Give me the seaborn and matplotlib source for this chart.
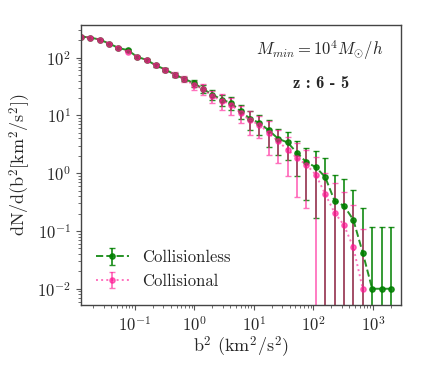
import numpy as np
import pandas as pd
import matplotlib
matplotlib.use('Agg')
import matplotlib.pyplot as plt
import seaborn as sns

# b^2 bin centres (km^2/s^2)
b2 = [0.0123, 0.0177, 0.0255, 0.0366, 0.0527, 0.0759, 0.109, 0.157, 0.226, 0.325,
      0.468, 0.673, 0.968, 1.39, 2.00, 2.88, 4.15, 5.97, 8.59, 12.4,
      17.8, 25.6, 36.8, 53.0, 76.2, 110, 158, 227, 327, 470,
      676, 973, 1400, 2014]

# collisionless
dn_cl = [231, 222, 205, 175, 147, 134, 103, 91, 73, 62,
         50.7, 42.8, 36.4, 28.7, 22.9, 18.7, 16.4, 11.7, 8.8, 7.4,
         5.5, 3.95, 3.4, 2.25, 1.55, 1.27, 0.855, 0.333, 0.272, 0.156,
         0.042, 0.01, 0.01, 0.01]
err_cl = [4, 4, 4, 4, 4, 4, 4, 4, 4, 4,
          4, 4, 5, 4.5, 4.5, 4.0, 4.0, 3.2, 3.2, 2.9,
          2.7, 1.9, 1.7, 1.35, 1.2, 1.1, 0.97, 0.6, 0.52, 0.36,
          0.21, 0.105, 0.105, 0.105]

# collisional
dn_co = [231, 222, 205, 175, 147, 127, 103, 91, 73, 62,
         50.7, 42.8, 33.6, 28.7, 21.3, 18.0, 15.3, 11.0, 8.2, 6.9,
         4.96, 3.54, 2.55, 1.83, 1.40, 0.94, 0.434, 0.208, 0.126, 0.052,
         0.01]
err_co = [4, 4, 4, 4, 4, 4, 4, 4, 4, 5,
          5, 5, 6, 6, 5, 5.5, 5.0, 3.6, 3.6, 2.8,
          2.93, 2.04, 1.67, 1.45, 1.15, 1.0, 0.57, 0.465, 0.34, 0.23,
          0.10]

sns.set_theme(style='ticks')
plt.rcParams['font.family'] = ['cmr10', 'DejaVu Serif']
plt.rcParams['mathtext.fontset'] = 'cm'
plt.rcParams['axes.formatter.use_mathtext'] = True
plt.rcParams['axes.unicode_minus'] = False

fig = plt.figure(figsize=(4.21, 3.69), dpi=100)
ax = fig.add_axes([0.192, 0.173, 0.76, 0.76])

ax.errorbar(b2, dn_cl, yerr=err_cl, color='green', ls='--', lw=1.4,
            marker='o', ms=3.8, capsize=2, elinewidth=1.3, alpha=0.85,
            label='Collisionless')
ax.errorbar(b2[:len(dn_co)], dn_co, yerr=err_co, color='deeppink', ls=':', lw=1.4,
            marker='o', ms=3.8, capsize=2, elinewidth=1.3, alpha=0.6,
            label='Collisional')

ax.set_xscale('log')
ax.set_yscale('log')
ax.set_xlim(0.0123, 2950)
ax.set_ylim(0.0052, 370)

ax.set_xlabel(r'b$^2$ (km$^2$/s$^2$)', fontsize=13, labelpad=1)
ax.set_ylabel(r'dN/d(b$^2$[km$^2$/s$^2$])', fontsize=13, labelpad=3)
ax.tick_params(labelsize=12, which='major', length=3.5, width=0.8, color='#555555')
ax.tick_params(which='minor', length=2, width=0.6, color='#555555')
for sp in ax.spines.values():
    sp.set_color('#444444')
    sp.set_linewidth(1.0)

ax.text(0.745, 0.91, r'$M_{min} = 10^4 M_{\odot}/h$', transform=ax.transAxes,
        ha='center', va='center', fontsize=12)
ax.text(0.75, 0.79, 'z : 6 - 5', transform=ax.transAxes, family='cmb10',
        ha='center', va='center', fontsize=12)

ax.legend(loc='lower left', frameon=False, fontsize=12, bbox_to_anchor=(0.0, 0.005))

fig.savefig('out.png', dpi=100)
